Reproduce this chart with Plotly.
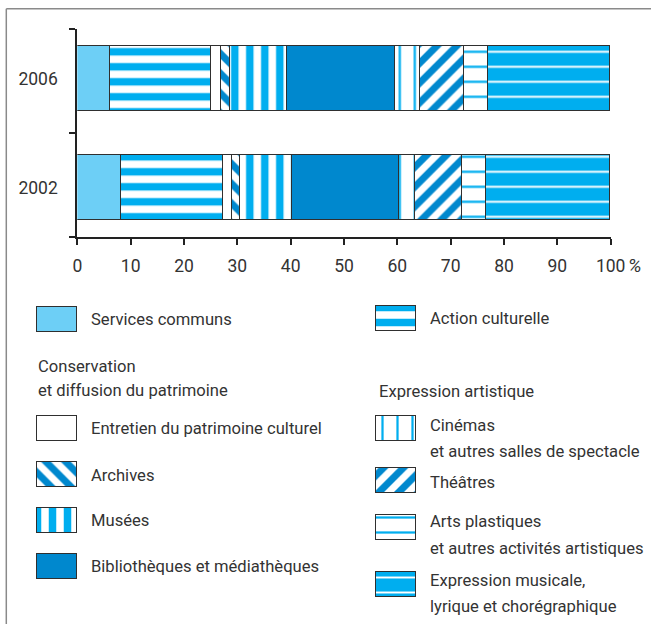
import plotly.graph_objects as go

# ---------------- data ----------------
years = ["2002", "2006"]
categories = [
    "Services communs",
    "Action culturelle",
    "Entretien du patrimoine culturel",
    "Archives",
    "Musées",
    "Bibliothèques et médiathèques",
    "Cinémas<br>et autres salles de spectacle",
    "Théâtres",
    "Arts plastiques<br>et autres activités artistiques",
    "Expression musicale,<br>lyrique et chorégraphique",
]
share_2002 = [8.3, 19.1, 1.6, 1.6, 9.7, 20.0, 3.1, 8.8, 4.5, 23.3]
share_2006 = [6.2, 19.0, 1.8, 1.6, 10.7, 20.4, 4.6, 8.3, 4.4, 23.0]
x_ticks = list(range(0, 101, 10))
group_titles = ["Conservation<br>et diffusion du patrimoine", "Expression artistique"]

# ---------------- styles ----------------
W, H = 651, 624
FONT = "Roboto, Liberation Sans, sans-serif"
FS = 16.6
FT = 17.5
TXT = "#333333"
CYAN = "#00AEEF"
DARK = "#0088CE"
LIGHT = "#6DCFF6"
EDGE = "#2f2f2f"

def pat(shape, fg, bg, size, sol):
    return dict(shape=shape, fgcolor=fg, bgcolor=bg, size=size, solidity=sol,
                fgopacity=1, fillmode="replace")

styles = [
    dict(color=LIGHT),
    dict(color=CYAN, pattern=pat("-", CYAN, "white", 15, 0.5)),
    dict(color="white"),
    dict(color=DARK, pattern=pat("\\", DARK, "white", 14, 0.5)),
    dict(color=CYAN, pattern=pat("|", CYAN, "white", 15, 0.5)),
    dict(color=DARK),
    dict(color=CYAN, pattern=pat("|", CYAN, "white", 15, 0.15)),
    dict(color=DARK, pattern=pat("/", DARK, "white", 14, 0.5)),
    dict(color=CYAN, pattern=pat("-", CYAN, "white", 15, 0.15)),
    dict(color=CYAN, pattern=pat("-", "white", CYAN, 15, 0.13)),
]

# legend swatch placement (pixel layout): x0, y-centre, text x
legend_pos = [
    (36.7, 319.8, 89), (375.7, 318.3, 428),
    (36.7, 428.8, 89), (36.7, 474.8, 89), (36.7, 520.5, 89), (36.7, 566.7, 89),
    (375.7, 428.8, 428), (375.7, 480.8, 428), (375.7, 527.0, 428), (375.7, 584.2, 428),
]
legend_text_y = [319.5, 318.5, 428.5, 475, 520.5, 566.7, 425.0, 482.7, 521.7, 580.0]
LINE_STEP = 26.6
group_pos = [(35.7, 366.7, 24.0), (376.7, 391.7, 24.0)]


def add_text(x, y, text, step):
    for k, line in enumerate(text.split("<br>")):
        fig.add_annotation(x=x, y=y + k * step, xref="x2", yref="y2", text=line,
                           showarrow=False, xanchor="left", yanchor="middle",
                           align="left", font=dict(family=FONT, size=FS, color=TXT))


fig = go.Figure()
ypos = list(range(len(years)))
for i, cat in enumerate(categories):
    vals = [share_2002[i], share_2006[i]]
    fig.add_trace(go.Bar(
        y=ypos, x=vals, orientation="h", name=cat.replace("<br>", " "), width=0.594,
        marker=dict(line=dict(color=EDGE, width=1.5), **styles[i]),
        showlegend=False, xaxis="x", yaxis="y",
    ))
    x0, yc, tx = legend_pos[i]
    fig.add_trace(go.Bar(
        y=[yc], x=[40.5], base=[x0], orientation="h", width=25,
        marker=dict(line=dict(color=EDGE, width=1.5), **styles[i]),
        showlegend=False, xaxis="x2", yaxis="y2", hoverinfo="skip",
    ))
    add_text(tx, legend_text_y[i], cat, LINE_STEP)

for (gx, gy, st), t in zip(group_pos, group_titles):
    add_text(gx, gy, t, st)

fig.add_annotation(x=626, y=265.5, xref="x2", yref="y2", text="%", showarrow=False,
                   xanchor="left", yanchor="middle",
                   font=dict(family=FONT, size=19, color=TXT, style="italic"))

# frame
fig.add_shape(type="line", xref="x2", yref="y2", x0=6.3, x1=651, y0=8.7, y1=8.7,
              line=dict(color="#8a8a8a", width=1.5))
fig.add_shape(type="line", xref="x2", yref="y2", x0=6.3, x1=6.3, y0=8.7, y1=624,
              line=dict(color="#8a8a8a", width=1.5))

fig.update_layout(
    width=W, height=H, autosize=False,
    margin=dict(l=0, r=0, t=0, b=0),
    paper_bgcolor="white", plot_bgcolor="rgba(0,0,0,0)",
    barmode="stack", bargap=0,
    font=dict(family=FONT, size=FS, color=TXT),
    xaxis=dict(domain=[77.3 / W, 610.7 / W], range=[0, 100], tickvals=x_ticks,
               ticks="outside", ticklen=6, tickwidth=1.5, tickcolor="#222",
               showline=True, linecolor="#222", linewidth=2, showgrid=False,
               zeroline=False, anchor="y", automargin=False, fixedrange=True,
               ticklabelstandoff=6, tickfont=dict(size=FT, color=TXT)),
    yaxis=dict(domain=[1 - 236.7 / H, 1 - 29.3 / H], range=[-0.443, 1.452],
               tickvals=ypos, ticktext=years, ticks="", showline=True,
               linecolor="#222", linewidth=2, showgrid=False, zeroline=False,
               anchor="x", automargin=False, fixedrange=True, ticklabelstandoff=14,
               minor=dict(tickvals=[-0.4429, 0.5, 1.4519], ticks="outside", ticklen=6,
                          tickwidth=1.5, tickcolor="#222", showgrid=False),
               tickfont=dict(size=FT, color=TXT)),
    xaxis2=dict(domain=[0, 1], range=[0, W], visible=False, anchor="y2", fixedrange=True),
    yaxis2=dict(domain=[0, 1], range=[H, 0], visible=False, anchor="x2", fixedrange=True),
)

fig.write_html("out.html", config={"displayModeBar": False},
               post_script="document.body.style.margin='0';")
